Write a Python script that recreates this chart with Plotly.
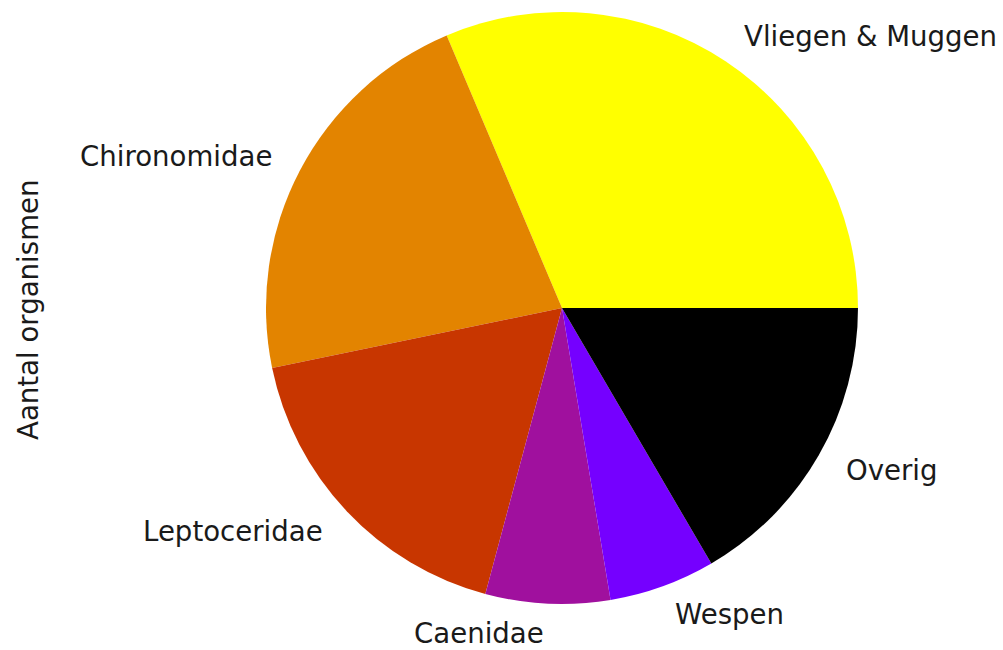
import math
import plotly.graph_objects as go

labels = ["Vliegen & Muggen", "Chironomidae", "Leptoceridae", "Caenidae", "Wespen", "Overig"]
values = [31.4, 21.9, 17.6, 6.8, 5.8, 16.6]
colors = ["#ffff00", "#e38400", "#c83600", "#a0109e", "#7500ff", "#000000"]
ylabel = "Aantal organismen"

W, H = 1003, 650
cx, cy, R = 562, 308, 296  # pie centre / radius in figure pixels

dom_x = [(cx - R) / W, (cx + R) / W]
dom_y = [(H - cy - R) / H, (H - cy + R) / H]

total = sum(values)
# plotly pins the first slice's far edge at `rotation` when counterclockwise;
# shift so the first slice starts at 3 o'clock like matplotlib's default
rotation = 90 - 360 * values[0] / total

fig = go.Figure(go.Pie(
    labels=labels, values=values, sort=False,
    direction="counterclockwise", rotation=rotation,
    marker=dict(colors=colors, line=dict(width=0)),
    textinfo="none", hoverinfo="label+value",
    domain=dict(x=dom_x, y=dom_y), showlegend=False,
))

FONT = dict(family="DejaVu Sans", size=27.6, color="#1a1a1a")

# labels at 1.1 * radius along the slice mid-angle (matplotlib style)
annotations = []
cum = 0.0
for lab, v in zip(labels, values):
    mid = 2 * math.pi * (cum + v / 2) / total
    cum += v
    lx = cx + 1.1 * R * math.cos(mid)
    ly = cy - 1.1 * R * math.sin(mid)
    annotations.append(dict(
        x=lx / W, y=1 - ly / H, xref="paper", yref="paper",
        text=lab, showarrow=False,
        xanchor="left" if math.cos(mid) > 0 else "right", yanchor="middle",
        font=FONT,
    ))

annotations.append(dict(
    x=28 / W, y=1 - 310 / H, xref="paper", yref="paper",
    text=ylabel, showarrow=False, textangle=-90,
    xanchor="center", yanchor="middle",
    font=FONT,
))

fig.update_layout(
    width=W, height=H,
    margin=dict(l=0, r=0, t=0, b=0),
    paper_bgcolor="white", plot_bgcolor="white",
    annotations=annotations,
)

fig.write_html(
    "out.html",
    config={"displayModeBar": False},
    post_script="document.body.style.margin='0';document.body.style.overflow='hidden';",
)
